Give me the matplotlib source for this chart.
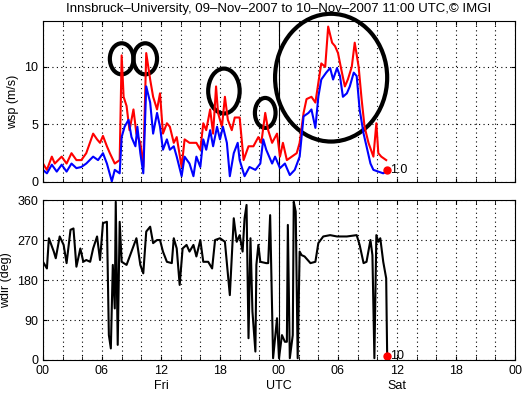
import numpy as np
import matplotlib.pyplot as plt
from matplotlib.patches import Ellipse

plt.rcParams['font.family'] = ['Liberation Sans', 'DejaVu Sans']
plt.rcParams['font.size'] = 9

# gust (red), hours since 09-Nov 00 UTC
gust_t = [0.0, 0.4, 0.9, 1.2, 1.9, 2.4, 2.9, 3.4, 3.9, 4.4, 5.1, 5.5, 5.8, 6.1, 6.5,
          6.8, 7.3, 7.8, 8.0, 8.2, 8.5, 8.8, 9.2, 9.5, 9.9, 10.2, 10.5, 10.9, 11.2,
          11.6, 11.9, 12.2, 12.6, 12.9, 13.3, 13.6, 14.1, 14.4, 14.9, 15.6, 16.0,
          16.3, 16.6, 17.0, 17.3, 17.6, 17.8, 18.2, 18.5, 18.8, 19.2, 19.5, 20.0,
          20.4, 20.9, 21.4, 21.9, 22.2, 22.6, 22.9, 23.3, 23.8, 24.1, 24.4, 24.8,
          25.3, 25.8, 26.1, 26.5, 26.8, 27.3, 27.7, 28.0, 28.3, 28.7, 29.0, 29.4,
          29.7, 30.0, 30.4, 30.7, 31.0, 31.4, 31.7, 32.1, 32.4, 32.7, 33.1, 33.6,
          33.9, 34.1, 34.4, 34.9]
gust = [1.6, 1.05, 2.2, 1.6, 2.2, 1.6, 2.5, 1.9, 1.9, 2.5, 4.2, 3.7, 3.4, 4.0, 3.1,
        2.5, 1.6, 1.9, 11.0, 7.4, 6.6, 4.5, 6.3, 4.2, 3.4, 1.3, 11.2, 8.9, 7.4,
        6.3, 7.7, 4.2, 5.1, 4.8, 3.4, 3.9, 1.3, 3.7, 3.4, 3.4, 2.8,
        5.1, 4.5, 6.3, 4.2, 8.3, 6.0, 4.8, 7.4, 5.4, 4.5, 5.6, 5.6,
        1.9, 3.1, 3.1, 3.9, 3.4, 6.0, 4.5, 3.4, 4.2, 2.2, 3.4, 1.9,
        2.2, 2.5, 3.4, 6.0, 7.2, 7.4, 6.9, 8.6, 10.3, 10.0, 13.5, 12.1,
        11.8, 11.2, 9.5, 8.3, 8.9, 10.0, 12.1, 10.0, 7.2, 4.8, 3.4, 2.2,
        5.1, 2.5, 2.2, 1.9]

# mean wind speed (blue)
wsp_t = [0.0, 0.4, 0.9, 1.4, 1.9, 2.4, 2.9, 3.4, 3.9, 4.4, 5.1, 5.6, 6.1, 6.5, 7.0,
         7.3, 7.8, 8.0, 8.3, 8.7, 9.0, 9.4, 9.6, 9.9, 10.2, 10.5, 10.9, 11.2, 11.6,
         11.9, 12.2, 12.6, 12.9, 13.3, 13.6, 14.1, 14.4, 14.9, 15.3, 15.6, 16.0,
         16.3, 16.6, 17.0, 17.3, 17.7, 18.0, 18.3, 18.7, 19.0, 19.4, 19.8, 20.0,
         20.5, 21.0, 21.6, 22.1, 22.4, 22.7, 23.3, 23.6, 24.1, 24.6, 25.1, 25.6,
         26.1, 26.5, 27.0, 27.3, 27.7, 28.0, 28.3, 28.8, 29.2, 29.5, 29.9, 30.2,
         30.5, 30.9, 31.2, 31.6, 31.9, 32.2, 32.6, 32.9, 33.3, 33.6, 34.1, 34.6, 34.9]
wsp = [1.05, 0.75, 1.5, 0.9, 1.5, 0.9, 1.6, 1.2, 1.3, 1.6, 2.2, 1.9, 2.5, 1.6, 0.05,
       1.05, 0.75, 3.9, 4.8, 5.4, 3.9, 3.1, 4.8, 2.5, 0.75, 8.3, 6.9, 4.2, 6.0,
       4.8, 2.8, 3.7, 2.8, 3.1, 2.2, 0.5, 2.2, 1.6, 0.5, 2.2, 1.3,
       3.7, 2.8, 4.5, 3.1, 4.8, 3.7, 4.8, 3.4, 0.5, 2.5, 3.4, 1.9,
       0.5, 1.3, 1.05, 1.6, 3.7, 2.8, 1.6, 2.2, 1.2, 1.6, 0.6, 1.05,
       2.2, 5.7, 6.0, 6.3, 4.7, 7.4, 8.9, 9.5, 9.9, 8.9, 9.9, 9.2,
       7.4, 7.7, 8.3, 9.5, 9.2, 6.3, 4.2, 3.1, 1.6, 1.05, 0.9, 0.75, 0.9]

# wind direction (black)
wdir_t = [0.0, 0.4, 0.6, 1.1, 1.3, 1.7, 2.1, 2.4, 2.8, 3.1, 3.4, 3.8, 4.1, 4.4, 4.8,
          5.1, 5.5, 5.8, 6.1, 6.5, 6.7, 6.9, 7.1, 7.3, 7.4, 7.6, 7.8, 8.0, 8.5, 9.0,
          9.5, 9.9, 10.2, 10.5, 10.9, 11.2, 11.6, 11.9, 12.2, 12.6, 13.1, 13.3,
          13.6, 13.9, 14.2, 14.6, 14.9, 15.3, 15.6, 16.0, 16.3, 16.8, 17.2, 17.5,
          18.0, 18.5, 19.0, 19.4, 19.7, 20.0, 20.3, 20.5, 20.7, 20.9, 21.1, 21.3,
          21.6, 21.7, 21.9, 22.1, 22.7, 22.9, 23.1, 23.4, 23.8, 24.0, 24.3, 24.6,
          24.8, 24.9, 25.1, 25.4, 25.5, 25.7, 25.9, 26.1, 26.3, 26.6, 27.2, 27.7,
          28.0, 28.5, 29.2, 29.9, 30.9, 31.9, 32.2, 32.6, 32.9, 33.3, 33.5, 33.7,
          33.9, 34.1, 34.3, 34.6, 34.9, 34.95, 35.0]
wdir = [221, 206, 274, 244, 229, 278, 259, 218, 293, 296, 210, 251, 221, 225, 221,
        251, 278, 225, 308, 311, 56, 26, 214, 116, 356, 34, 311, 221, 214, 244,
        274, 214, 195, 289, 300, 263, 270, 270, 244, 221, 218, 274,
        251, 169, 251, 259, 244, 259, 233, 270, 221, 221, 206, 270,
        274, 266, 146, 319, 266, 281, 244, 319, 349, 49, 274, 109,
        19, 214, 259, 221, 218, 218, 326, 4, 94, 4, 56, 41,
        41, 304, 4, 56, 356, 334, 4, 244, 236, 233, 218, 221,
        263, 278, 281, 278, 278, 281, 259, 218, 221, 270, 236, 4,
        281, 266, 274, 221, 184, 94, 11]

last_t = 35.0
last_wsp = 1.0
last_wdir = 10

# annotation ellipses: centre hour, centre value, width (h), height (m/s)
circ_x = [8.0, 10.4, 18.4, 22.6, 29.3]
circ_y = [10.7, 10.7, 7.9, 6.0, 9.06]
circ_w = [2.4, 2.4, 3.2, 2.1, 11.4]
circ_h = [2.7, 2.7, 3.9, 2.6, 11.1]

xticks = np.arange(0, 49, 6)
xlabels = ['00', '06', '12\nFri', '18', '00\nUTC', '06', '12\nSat', '18', '00']

fig = plt.figure(figsize=(5.28, 3.93), dpi=100)
ax1 = fig.add_axes([0.0814, 0.537, 0.894, 0.410])
ax2 = fig.add_axes([0.0814, 0.084, 0.894, 0.407])

for ax in (ax1, ax2):
    ax.set_xlim(0, 48)
    ax.set_xticks(np.arange(0, 49, 2), minor=True)
    ax.set_xticks(xticks)
    ax.grid(True, which='both', axis='x', color='k', linestyle=(0, (1, 3)), linewidth=0.8)
    ax.grid(True, which='major', axis='y', color='k', linestyle=(0, (1, 3)), linewidth=0.8)
    ax.axvline(24, color='k', linewidth=0.8)
    ax.tick_params(direction='in', which='both', top=True, right=True, length=3)
    for s in ax.spines.values():
        s.set_linewidth(0.8)

ax1.plot(gust_t, gust, color='red', linewidth=1.5)
ax1.plot(wsp_t, wsp, color='blue', linewidth=1.5)
ax1.plot(last_t, last_wsp, 'o', color='red', markersize=5)
ax1.text(last_t + 0.3, last_wsp, '%.1f' % last_wsp, va='center', ha='left')
ax1.set_ylim(0, 14)
ax1.set_yticks([0, 5, 10])
ax1.set_xticklabels([])
ax1.set_ylabel('wsp (m/s)')
ax1.set_title('Innsbruck\u2013University, 09\u2013Nov\u20132007 to 10\u2013Nov\u20132007 11:00 UTC,\u00a9 IMGI',
              fontsize=9.5, pad=6)

for cx, cy, w, h in zip(circ_x, circ_y, circ_w, circ_h):
    ax1.add_patch(Ellipse((cx, cy), w, h, fill=False, edgecolor='k', linewidth=3, clip_on=False))

ax2.plot(wdir_t, wdir, color='k', linewidth=1.5)
ax2.plot(last_t, last_wdir, 'o', color='red', markersize=5)
ax2.text(last_t + 0.3, last_wdir, '%d' % last_wdir, va='center', ha='left')
ax2.set_ylim(0, 360)
ax2.set_yticks(np.arange(0, 361, 90))
ax2.set_xticklabels(xlabels, linespacing=1.3)
ax2.set_ylabel('wdir (deg)')

fig.savefig('out.png', dpi=100)
